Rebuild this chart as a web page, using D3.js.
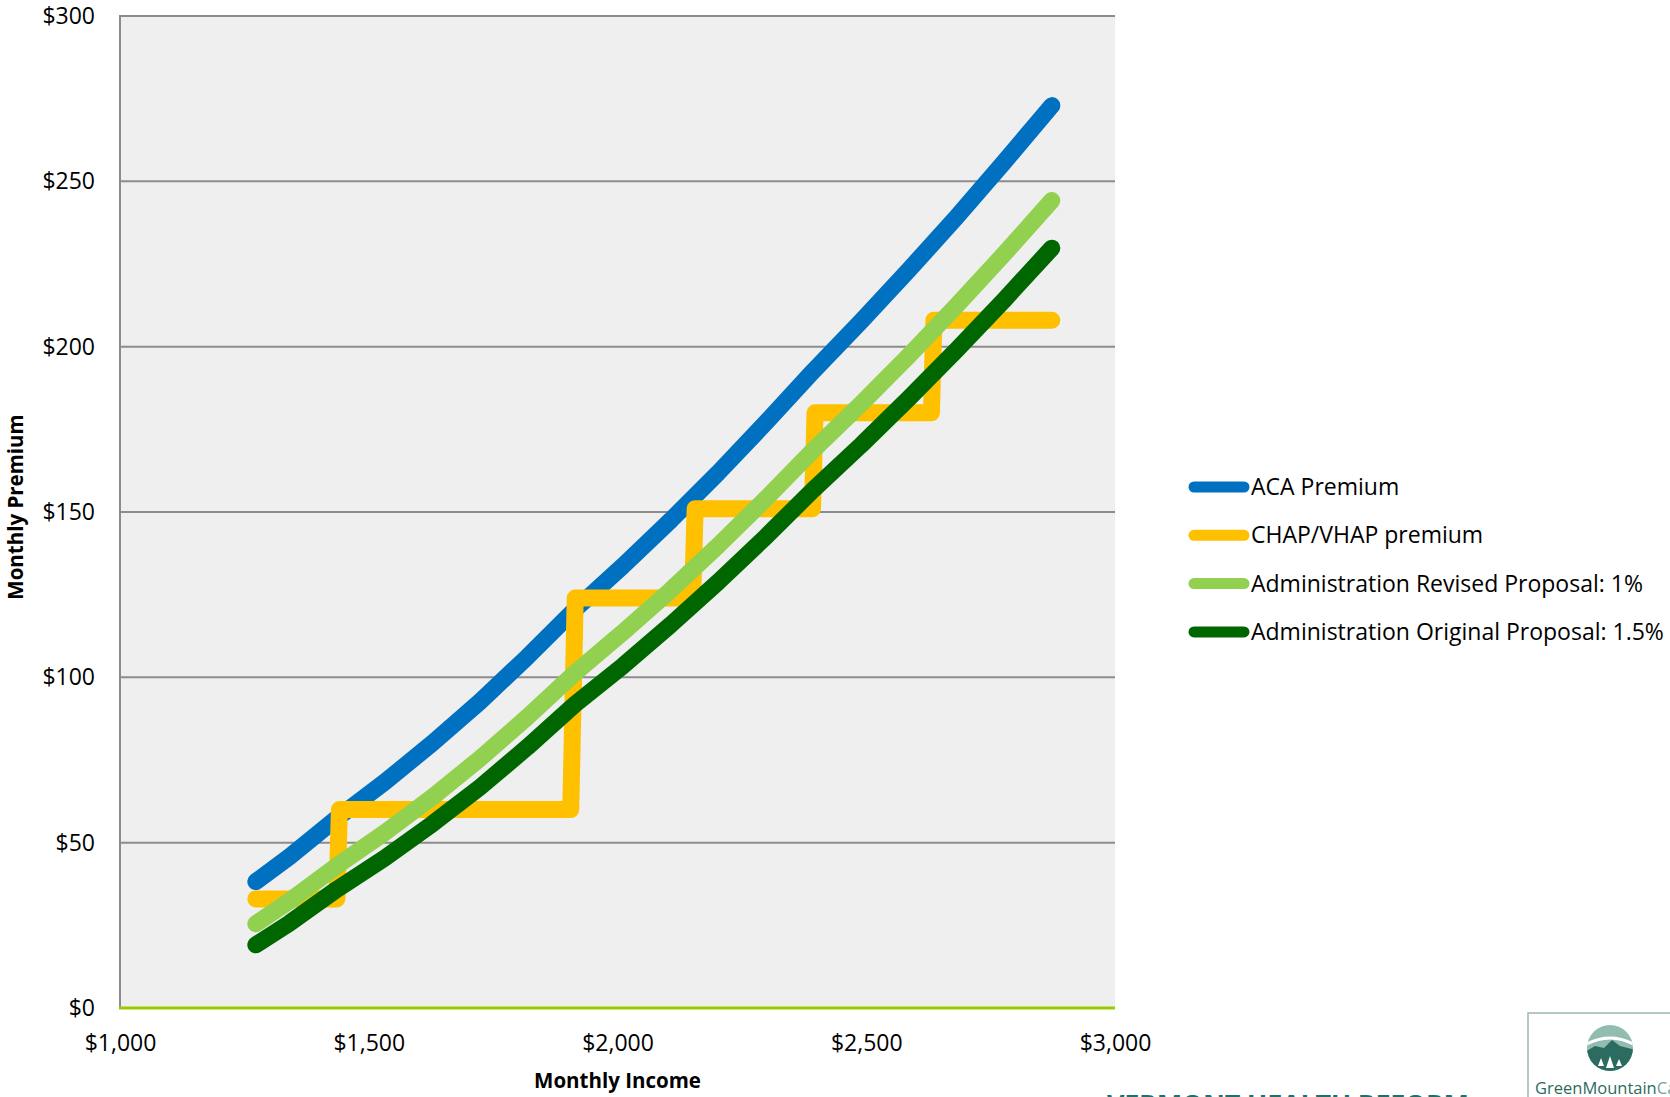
<!DOCTYPE html>
<html>
<head>
<meta charset="utf-8">
<script src="https://cdn.jsdelivr.net/npm/d3@7"></script>
<style>
  body { margin: 0; background: #fff; }
  svg { display: block; font-family: "Open Sans", sans-serif; }
</style>
</head>
<body>
<script>
// monthly income points (133% to 300% of poverty level)
const income = [1273, 1341, 1436, 1532, 1628, 1724, 1819, 1915, 2011, 2107, 2202, 2298, 2394, 2490, 2585, 2681, 2777, 2873];

// premiums
const acaPremium = [38.2, 45.8, 57.4, 68.3, 80.1, 92.7, 106.2, 120.6, 133.7, 147.5, 161.8, 177.0, 192.7, 207.7, 223.1, 239.1, 255.8, 272.9];
const revisedProposal = [25.5, 32.4, 43.0, 53.0, 63.8, 75.5, 88.0, 101.4, 113.6, 126.4, 139.8, 154.0, 168.8, 182.8, 197.2, 212.3, 228.0, 244.2];
const originalProposal = [19.1, 25.7, 35.9, 45.3, 55.7, 66.8, 78.9, 91.9, 103.5, 115.9, 128.8, 142.5, 156.8, 170.3, 184.3, 198.9, 214.1, 229.8];

// CHAP/VHAP steps
const chapIncome = [1273, 1436, 1441, 1906, 1915, 2151, 2156, 2392, 2397, 2631, 2636, 2873];
const chapPremium = [33, 33, 60, 60, 124, 124, 151, 151, 180, 180, 208, 208];

const seriesNames = ["ACA Premium", "CHAP/VHAP premium", "Administration Revised Proposal: 1%", "Administration Original Proposal: 1.5%"];
const seriesColors = ["#0070C0", "#FFC000", "#92D050", "#006600"];

const xTicks = [1000, 1500, 2000, 2500, 3000];
const yTicks = [0, 50, 100, 150, 200, 250, 300];

const W = 1670, H = 1097;
const plotLeft = 120, plotRight = 1115, plotTop = 16, plotBottom = 1008;

const svg = d3.select("body").append("svg")
    .attr("width", W)
    .attr("height", H);

const x = d3.scaleLinear().domain([1000, 3000]).range([plotLeft, plotRight]);
const y = d3.scaleLinear().domain([0, 300]).range([plotBottom, plotTop]);

// plot area background
svg.append("rect")
    .attr("x", plotLeft).attr("y", plotTop)
    .attr("width", plotRight - plotLeft).attr("height", plotBottom - plotTop)
    .attr("fill", "#EFEFEF");

// horizontal gridlines
svg.append("g").selectAll("line")
    .data(yTicks.filter(d => d > 0))
    .enter().append("line")
    .attr("x1", plotLeft).attr("x2", plotRight)
    .attr("y1", d => y(d)).attr("y2", d => y(d))
    .attr("stroke", "#8C8C8C")
    .attr("stroke-width", 2);

// y axis line
svg.append("line")
    .attr("x1", plotLeft).attr("x2", plotLeft)
    .attr("y1", plotTop - 1).attr("y2", plotBottom)
    .attr("stroke", "#8C8C8C")
    .attr("stroke-width", 2);

// x axis line (green)
svg.append("line")
    .attr("x1", plotLeft - 1).attr("x2", plotRight)
    .attr("y1", plotBottom).attr("y2", plotBottom)
    .attr("stroke", "#99CC00")
    .attr("stroke-width", 3);

const money = d => "$" + d3.format(",")(d);

// y axis labels
const yAxis = svg.append("g")
    .attr("transform", "translate(" + plotLeft + ",0)")
    .call(d3.axisLeft(y).tickValues(yTicks).tickSize(0).tickPadding(25).tickFormat(money));
yAxis.select(".domain").remove();
yAxis.selectAll("text")
    .attr("font-family", "Open Sans")
    .attr("font-size", 23)
    .attr("fill", "#000");

// x axis labels
const xAxis = svg.append("g")
    .attr("transform", "translate(0," + plotBottom + ")")
    .call(d3.axisBottom(x).tickValues(xTicks).tickSize(0).tickPadding(27).tickFormat(money));
xAxis.select(".domain").remove();
xAxis.selectAll("text")
    .attr("font-family", "Open Sans")
    .attr("font-size", 23)
    .attr("fill", "#000");

// axis titles
svg.append("text")
    .attr("x", (plotLeft + plotRight) / 2)
    .attr("y", 1088)
    .attr("text-anchor", "middle")
    .attr("font-size", 20.5)
    .attr("font-weight", "bold")
    .text("Monthly Income");

svg.append("text")
    .attr("transform", "translate(23,507) rotate(-90)")
    .attr("text-anchor", "middle")
    .attr("font-size", 20.5)
    .attr("font-weight", "bold")
    .text("Monthly Premium");

// series lines
const line = d3.line()
    .x(d => x(d[0]))
    .y(d => y(d[1]));

const seriesData = [
    income.map((v, i) => [v, acaPremium[i]]),
    chapIncome.map((v, i) => [v, chapPremium[i]]),
    income.map((v, i) => [v, revisedProposal[i]]),
    income.map((v, i) => [v, originalProposal[i]])
];

svg.append("g").selectAll("path")
    .data(seriesData)
    .enter().append("path")
    .attr("d", line)
    .attr("fill", "none")
    .attr("stroke", (d, i) => seriesColors[i])
    .attr("stroke-width", 17)
    .attr("stroke-linecap", "round")
    .attr("stroke-linejoin", "round");

// legend
const legend = svg.append("g").selectAll("g")
    .data(seriesNames)
    .enter().append("g")
    .attr("transform", (d, i) => "translate(0," + (487 + i * 48.3) + ")");

legend.append("line")
    .attr("x1", 1194).attr("x2", 1244)
    .attr("y1", 0).attr("y2", 0)
    .attr("stroke", (d, i) => seriesColors[i])
    .attr("stroke-width", 11)
    .attr("stroke-linecap", "round");

legend.append("text")
    .attr("x", 1251)
    .attr("y", 0)
    .attr("dy", "0.35em")
    .attr("font-size", 23)
    .attr("fill", "#000")
    .text(d => d);

// footer banner text (cut by the page edge)
svg.append("text")
    .attr("x", 1107)
    .attr("y", 1114)
    .attr("font-size", 27)
    .attr("font-weight", "bold")
    .attr("fill", "#1F6F6C")
    .attr("textLength", 362)
    .attr("lengthAdjust", "spacing")
    .text("VERMONT HEALTH REFORM");

// logo box
const logo = svg.append("g");
logo.append("rect")
    .attr("x", 1528).attr("y", 1013)
    .attr("width", 160).attr("height", 110)
    .attr("fill", "#fff")
    .attr("stroke", "#9DB8B0")
    .attr("stroke-width", 1.5);

const defs = svg.append("defs");
defs.append("clipPath").attr("id", "logoClip")
    .append("circle").attr("cx", 1610).attr("cy", 1048).attr("r", 23);

const icon = logo.append("g").attr("clip-path", "url(#logoClip)");
icon.append("rect")
    .attr("x", 1585).attr("y", 1023).attr("width", 50).attr("height", 50)
    .attr("fill", "#93BCB1");
icon.append("path")
    .attr("d", "M1580,1048 Q1610,1028 1640,1048")
    .attr("fill", "none")
    .attr("stroke", "#fff")
    .attr("stroke-width", 3);
icon.append("path")
    .attr("d", "M1585,1052 L1595,1046 L1604,1048 L1612,1040 L1620,1046 L1636,1050 L1636,1075 L1585,1075 Z")
    .attr("fill", "#2C6B60");
icon.append("path")
    .attr("d", "M1598,1066 L1601,1058 L1604,1066 Z M1606,1068 L1610,1056 L1614,1068 Z M1616,1066 L1619,1059 L1622,1066 Z")
    .attr("fill", "#fff");

const logoText = logo.append("text")
    .attr("x", 1535)
    .attr("y", 1094)
    .attr("font-size", 16.5)
    .attr("fill", "#2C6B60");
logoText.append("tspan").text("GreenMountain");
logoText.append("tspan").attr("fill", "#6FA397").text("Care");
</script>
</body>
</html>
